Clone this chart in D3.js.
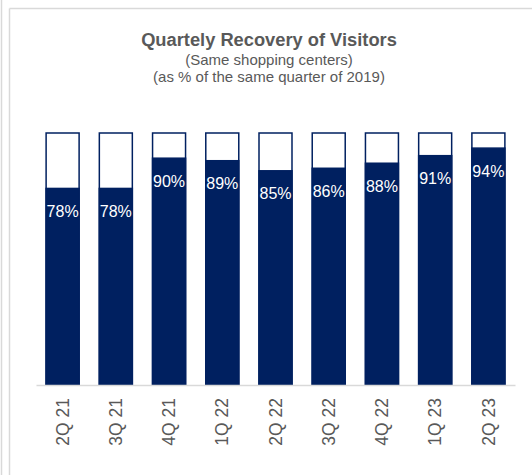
<!DOCTYPE html>
<html>
<head>
<meta charset="utf-8">
<script src="https://cdn.jsdelivr.net/npm/d3@7"></script>
<style>
    body { margin: 0; background: #fff; }
    text { font-family: Arial, "Liberation Sans", sans-serif; }
</style>
</head>
<body>
<svg class="chart"></svg>
<script>
var quarters = ['2Q 21', '3Q 21', '4Q 21', '1Q 22', '2Q 22', '3Q 22', '4Q 22', '1Q 23', '2Q 23'];
var recovery = [78, 78, 90, 89, 85, 86, 88, 91, 94];
var titleLines = ['(Same shopping centers)', '(as % of the same quarter of 2019)'];

function show() {
    'use strict';

    var width = 532, height = 475;
    var navy = '#002060', grey = '#595959', frame = '#d9d9d9';

    var svg = d3.select('.chart')
        .attr('width', width)
        .attr('height', height);

    // panel frame lines
    svg.append('line').attr('x1', 1.5).attr('x2', 1.5).attr('y1', 0).attr('y2', height)
        .attr('stroke', frame).attr('stroke-width', 1.5);
    svg.append('line').attr('x1', 9.5).attr('x2', 9.5).attr('y1', 8.5).attr('y2', height)
        .attr('stroke', frame).attr('stroke-width', 1.5);
    svg.append('line').attr('x1', 9.5).attr('x2', width).attr('y1', 8.5).attr('y2', 8.5)
        .attr('stroke', frame).attr('stroke-width', 1.5);

    svg.append('text')
        .attr('x', 269).attr('y', 46)
        .attr('text-anchor', 'middle')
        .attr('font-size', 18.3).attr('font-weight', 'bold')
        .attr('fill', grey)
        .text('Quartely Recovery of Visitors');

    svg.selectAll('text.sub').data(titleLines)
        .enter()
        .append('text')
        .attr('class', 'sub')
        .attr('x', 269)
        .attr('y', function (d, i) { return 64.5 + i * 17; })
        .attr('text-anchor', 'middle')
        .attr('font-size', 15)
        .attr('fill', grey)
        .text(function (d) { return d; });

    var x = d3.scaleBand()
        .domain(quarters)
        .range([36, 515])
        .paddingInner(0.38)
        .paddingOuter(0.19);

    var y = d3.scaleLinear()
        .domain([0, 100])
        .range([385, 133]);

    var bars = svg.selectAll('g.bar').data(quarters)
        .enter()
        .append('g')
        .attr('class', 'bar');

    bars.append('rect')
        .attr('x', function (d) { return x(d); })
        .attr('y', y(100))
        .attr('width', x.bandwidth())
        .attr('height', y(0) - y(100))
        .attr('fill', '#fff')
        .attr('stroke', navy)
        .attr('stroke-width', 1.5);

    bars.append('rect')
        .attr('x', function (d) { return x(d); })
        .attr('y', function (d, i) { return y(recovery[i]); })
        .attr('width', x.bandwidth())
        .attr('height', function (d, i) { return y(0) - y(recovery[i]); })
        .attr('fill', navy)
        .attr('stroke', navy)
        .attr('stroke-width', 1.5);

    bars.append('text')
        .attr('x', function (d) { return x(d) + x.bandwidth() / 2; })
        .attr('y', function (d, i) { return y(recovery[i]) + 28.5; })
        .attr('text-anchor', 'middle')
        .attr('font-size', 16)
        .attr('fill', '#fff')
        .text(function (d, i) { return recovery[i] + '%'; });

    var xAxis = d3.axisBottom(x).tickSize(0).tickPadding(0);

    var axis = svg.append('g')
        .attr('transform', 'translate(0,385)')
        .call(xAxis);

    axis.select('.domain')
        .attr('stroke', frame)
        .attr('stroke-width', 1.5);

    axis.selectAll('.tick text')
        .attr('transform', 'rotate(-90)')
        .attr('x', -13)
        .attr('y', 0)
        .attr('dy', '0.35em')
        .attr('text-anchor', 'end')
        .attr('font-size', 17.5)
        .attr('font-family', 'Arial, "Liberation Sans", sans-serif')
        .attr('fill', grey);
}

show();
</script>
</body>
</html>
